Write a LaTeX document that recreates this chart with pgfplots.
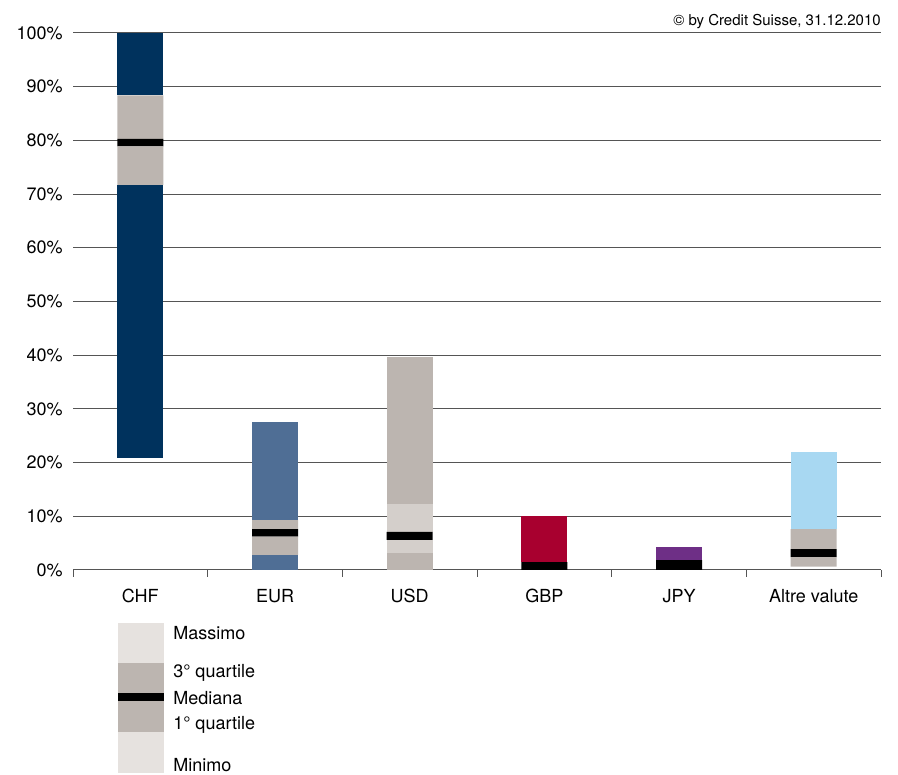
\documentclass[border=0pt]{standalone}
\usepackage{fontspec}
\setmainfont{TeX Gyre Heros}
\usepackage{pgfplots}
\usepackage{pgfplotstable}
\pgfplotsset{compat=1.18}
\definecolor{chf}{HTML}{00325D}
\definecolor{eur}{HTML}{4F6E95}
\definecolor{qgrey}{HTML}{BCB5B0}
\definecolor{qlight}{HTML}{D4CFCB}
\definecolor{gbp}{HTML}{A8002F}
\definecolor{jpy}{HTML}{6E2F86}
\definecolor{alt}{HTML}{A8D8F2}
\definecolor{leglight}{HTML}{E6E2DF}
\definecolor{gridc}{HTML}{555555}
\pgfplotstableread{
x base lowN lowE lowU gLo gLoU med gHi gHiU hiN hiE hiU hiG hiJ hiA
0 20.9 50.8 0 0 7.2 0 1.4 8.1 0 11.6 0 0 0 0 0
1 0 0 2.8 0 3.4 0 1.4 1.7 0 0 18.3 0 0 0 0
2 0 0 0 3.2 0 2.4 1.5 0 5.2 0 0 27.3 0 0 0
3 0 0 0 0 0 0 1.45 0 0 0 0 0 8.6 0 0
4 0 0 0 0 0 0 1.85 0 0 0 0 0 0 2.45 0
5 0.65 0 0 0 1.75 0 1.5 3.7 0 0 0 0 0 0 14.4
}\datatable
\begin{document}
\begin{tikzpicture}[x=1pt,y=1pt]
\useasboundingbox (0,0) rectangle (673.5,580.5);
\begin{axis}[
  at={(54.75pt,153pt)}, anchor=south west,
  scale only axis, width=606pt, height=402.75pt,
  xmin=-0.5, xmax=5.5, ymin=0, ymax=100,
  enlargelimits=false,
  ybar stacked, bar width=34.5pt,
  axis line style={draw=none},
  xtick={0,...,5},
  xticklabels={CHF,EUR,USD,GBP,JPY,Altre valute},
  minor xtick={-0.5,0.5,...,5.5},
  xtick pos=bottom,
  ytick pos=left,
  major tick length=0pt,
  minor tick length=5.25pt,
  tick align=outside,
  minor tick style={draw=gridc, line width=0.75pt},
  major tick style={draw=none},
  ytick={0,10,...,100},
  yticklabel={\pgfmathprintnumber{\tick}\%},
  ymajorgrids,
  major grid style={draw=gridc, line width=0.75pt},
  /pgf/number format/assume math mode=true,
  tick label style={font=\fontsize{13.5}{15}\selectfont},
  yticklabel style={inner sep=0pt, anchor=east, xshift=-7.5pt},
  xticklabel style={inner sep=0pt, anchor=base, yshift=-24pt},
  clip=false,
]
\addplot[draw=none, fill=none] table[x=x,y=base]{\datatable};
\addplot[draw=none, fill=chf] table[x=x,y=lowN]{\datatable};
\addplot[draw=none, fill=eur] table[x=x,y=lowE]{\datatable};
\addplot[draw=none, fill=qgrey] table[x=x,y=lowU]{\datatable};
\addplot[draw=none, fill=qgrey] table[x=x,y=gLo]{\datatable};
\addplot[draw=none, fill=qlight] table[x=x,y=gLoU]{\datatable};
\addplot[draw=none, fill=black] table[x=x,y=med]{\datatable};
\addplot[draw=none, fill=qgrey] table[x=x,y=gHi]{\datatable};
\addplot[draw=none, fill=qlight] table[x=x,y=gHiU]{\datatable};
\addplot[draw=none, fill=chf] table[x=x,y=hiN]{\datatable};
\addplot[draw=none, fill=eur] table[x=x,y=hiE]{\datatable};
\addplot[draw=none, fill=qgrey] table[x=x,y=hiU]{\datatable};
\addplot[draw=none, fill=gbp] table[x=x,y=hiG]{\datatable};
\addplot[draw=none, fill=jpy] table[x=x,y=hiJ]{\datatable};
\addplot[draw=none, fill=alt] table[x=x,y=hiA]{\datatable};
\end{axis}
% copyright
\node[anchor=base east, inner sep=0pt, font=\fontsize{11.25}{13}\selectfont] at (660.75,561) {© by Credit Suisse, 31.12.2010};
% legend
\fill[leglight] (88.5,83.25) rectangle (123,113.25);
\fill[qgrey] (88.5,60.75) rectangle (123,83.25);
\fill[black] (88.5,55.1) rectangle (123,60.75);
\fill[qgrey] (88.5,31.5) rectangle (123,55.1);
\fill[leglight] (88.5,0.75) rectangle (123,31.5);
\begin{scope}[every node/.style={anchor=west, inner sep=0pt, font=\fontsize{13.5}{15}\selectfont}]
\node at (129.75,105.75) {Massimo};
\node at (129.75,75.75) {3° quartile};
\node at (129.75,57) {Mediana};
\node at (129.75,36.75) {1° quartile};
\node at (129.75,6.75) {Minimo};
\end{scope}
\end{tikzpicture}
\end{document}
